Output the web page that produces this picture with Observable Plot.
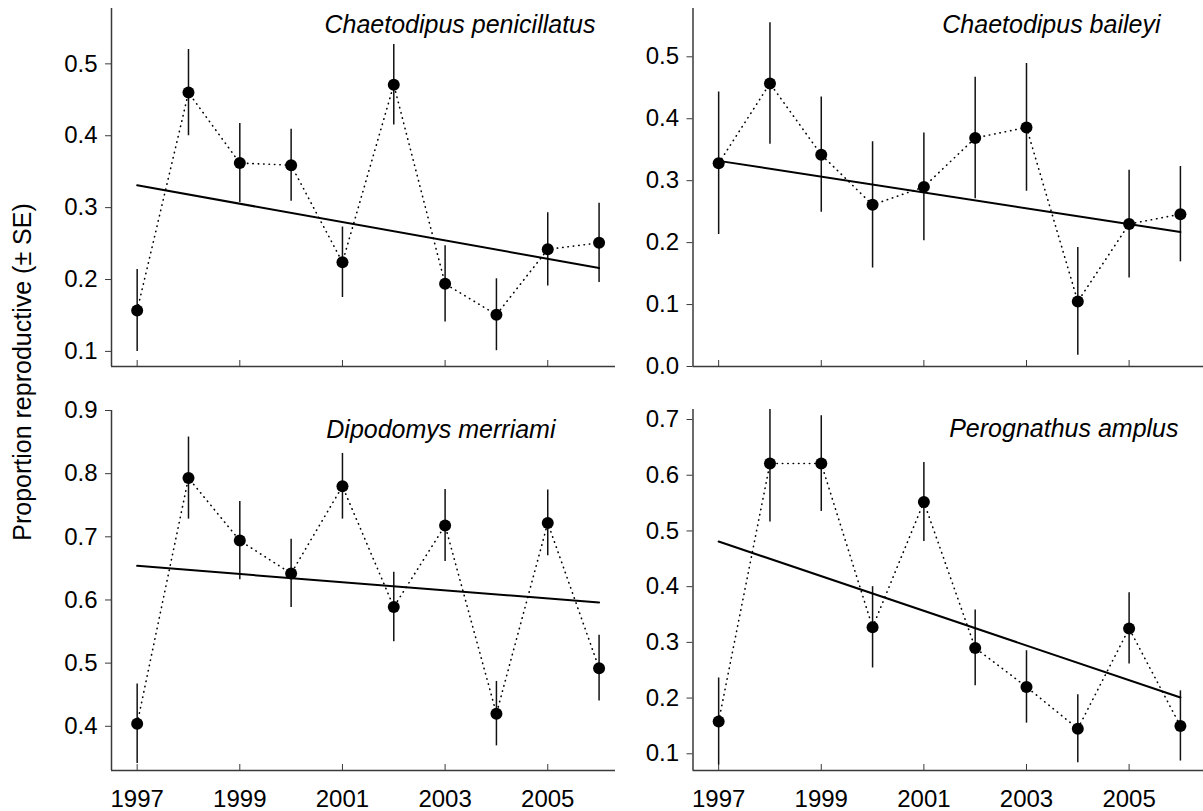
<!DOCTYPE html>
<html>
<head>
<meta charset="utf-8">
<script src="https://cdn.jsdelivr.net/npm/d3@7"></script>
<script src="https://cdn.jsdelivr.net/npm/@observablehq/plot@0.6"></script>
<style>
  body { margin: 0; background: #fff; }
  #chart { position: relative; width: 1203px; height: 811px; font-family: "Liberation Sans", Arial, sans-serif; }
  .panel { position: absolute; }
  #ylabel {
    position: absolute; left: -178px; top: 357px; width: 400px; height: 30px; line-height: 30px;
    text-align: center; font-size: 25px; color: #000; transform: rotate(-90deg); transform-origin: center;
    white-space: nowrap;
  }
</style>
</head>
<body>
<div id="chart"><div id="ylabel">Proportion reproductive (± SE)</div></div>
<script>
// Survey years
const years = [1997, 1998, 1999, 2000, 2001, 2002, 2003, 2004, 2005, 2006];

// Species shown, one panel each
const species = ["Chaetodipus penicillatus", "Chaetodipus baileyi", "Dipodomys merriami", "Perognathus amplus"];

// Yearly proportion reproductive and its standard error
const penicillatusMean = [0.157, 0.460, 0.362, 0.359, 0.224, 0.471, 0.194, 0.151, 0.242, 0.251];
const penicillatusSE   = [0.057, 0.060, 0.055, 0.050, 0.049, 0.056, 0.053, 0.050, 0.051, 0.055];

const baileyiMean = [0.328, 0.457, 0.342, 0.261, 0.290, 0.369, 0.386, 0.105, 0.230, 0.246];
const baileyiSE   = [0.115, 0.098, 0.093, 0.102, 0.087, 0.098, 0.103, 0.087, 0.087, 0.077];

const merriamiMean = [0.404, 0.793, 0.694, 0.642, 0.780, 0.589, 0.718, 0.420, 0.722, 0.492];
const merriamiSE   = [0.063, 0.065, 0.062, 0.054, 0.052, 0.055, 0.057, 0.051, 0.052, 0.052];

const amplusMean = [0.158, 0.621, 0.621, 0.327, 0.552, 0.290, 0.220, 0.145, 0.325, 0.150];
const amplusSE   = [0.078, 0.105, 0.086, 0.073, 0.071, 0.068, 0.065, 0.061, 0.064, 0.063];

// Fitted linear trend, evaluated at the first and last year
const trendStart = [0.331, 0.332, 0.654, 0.481];
const trendEnd   = [0.216, 0.217, 0.596, 0.201];

// Axis ticks
const xTicks = [1997, 1999, 2001, 2003, 2005];
const yTicks = [
  [0.1, 0.2, 0.3, 0.4, 0.5],
  [0.0, 0.1, 0.2, 0.3, 0.4, 0.5],
  [0.4, 0.5, 0.6, 0.7, 0.8, 0.9],
  [0.1, 0.2, 0.3, 0.4, 0.5, 0.6, 0.7]
];
const yDomains = [[0.079, 0.577], [0, 0.578], [0.33, 0.9], [0.07, 0.718]];

const means = [penicillatusMean, baileyiMean, merriamiMean, amplusMean];
const ses = [penicillatusSE, baileyiSE, merriamiSE, amplusSE];

// Panel layout on the page
const layout = [
  {left: 0,   top: 0,   width: 620, height: 390, mt: 8,  mb: 24, ml: 111,  mr: 5, xMax: 2006.32, labels: false, tdx: -20, tdy: 7},
  {left: 600, top: 0,   width: 603, height: 390, mt: 8,  mb: 24, ml: 92.5, mr: 0, xMax: 2006.45, labels: false, tdx: -43, tdy: 7},
  {left: 0,   top: 395, width: 620, height: 416, mt: 15, mb: 41, ml: 111,  mr: 5, xMax: 2006.32, labels: true,  tdx: -60, tdy: 10},
  {left: 600, top: 395, width: 603, height: 416, mt: 14, mb: 41, ml: 92.5, mr: 0, xMax: 2006.45, labels: true,  tdx: -25, tdy: 10}
];

const axisColor = "#3a3a3a";
const chart = document.getElementById("chart");

species.forEach((name, i) => {
  const L = layout[i];
  const rows = years.map((year, j) => ({year, value: means[i][j], se: ses[i][j]}));
  const trend = [
    {year: years[0], value: trendStart[i]},
    {year: years[years.length - 1], value: trendEnd[i]}
  ];
  const xMin = 1996.5;

  const marks = [
    Plot.ruleX([xMin], {stroke: axisColor, strokeWidth: 1.5}),
    Plot.ruleY([yDomains[i][0]], {stroke: axisColor, strokeWidth: 1.5}),
    Plot.axisY({
      ticks: yTicks[i], tickFormat: d3.format(".1f"), tickSize: 6, tickPadding: 8,
      fontSize: 24, stroke: axisColor, fill: "#000", label: null
    }),
    // inward-pointing year ticks on the baseline
    Plot.axisX({ticks: xTicks, tickSize: 6, dy: -6, stroke: axisColor, tickFormat: () => "", label: null}),
    Plot.line(rows, {
      x: "year", y: "value", stroke: "#000", strokeWidth: 1.6,
      strokeDasharray: "0.4 5", strokeLinecap: "round"
    }),
    Plot.ruleX(rows, {x: "year", y1: d => d.value - d.se, y2: d => d.value + d.se, stroke: "#111", strokeWidth: 1.5, clip: true}),
    Plot.line(trend, {x: "year", y: "value", stroke: "#000", strokeWidth: 2}),
    Plot.dot(rows, {x: "year", y: "value", r: 6, fill: "#000", stroke: "none"}),
    Plot.text([name], {
      frameAnchor: "top-right", textAnchor: "end", lineAnchor: "top",
      dx: L.tdx, dy: L.tdy, fontSize: 25, fontStyle: "italic", fill: "#000"
    })
  ];
  if (L.labels) {
    marks.push(Plot.axisX({ticks: xTicks, tickSize: 0, tickPadding: 19, fontSize: 24, fill: "#000", tickFormat: d => String(d), label: null}));
  }

  const svg = Plot.plot({
    width: L.width,
    height: L.height,
    marginTop: L.mt,
    marginBottom: L.mb,
    marginLeft: L.ml,
    marginRight: L.mr,
    x: {domain: [xMin, L.xMax]},
    y: {domain: yDomains[i]},
    style: {fontFamily: '"Liberation Sans", Arial, sans-serif', background: "transparent", overflow: "visible"},
    marks
  });
  svg.classList.add("panel");
  svg.style.left = L.left + "px";
  svg.style.top = L.top + "px";
  chart.appendChild(svg);
});
</script>
</body>
</html>
